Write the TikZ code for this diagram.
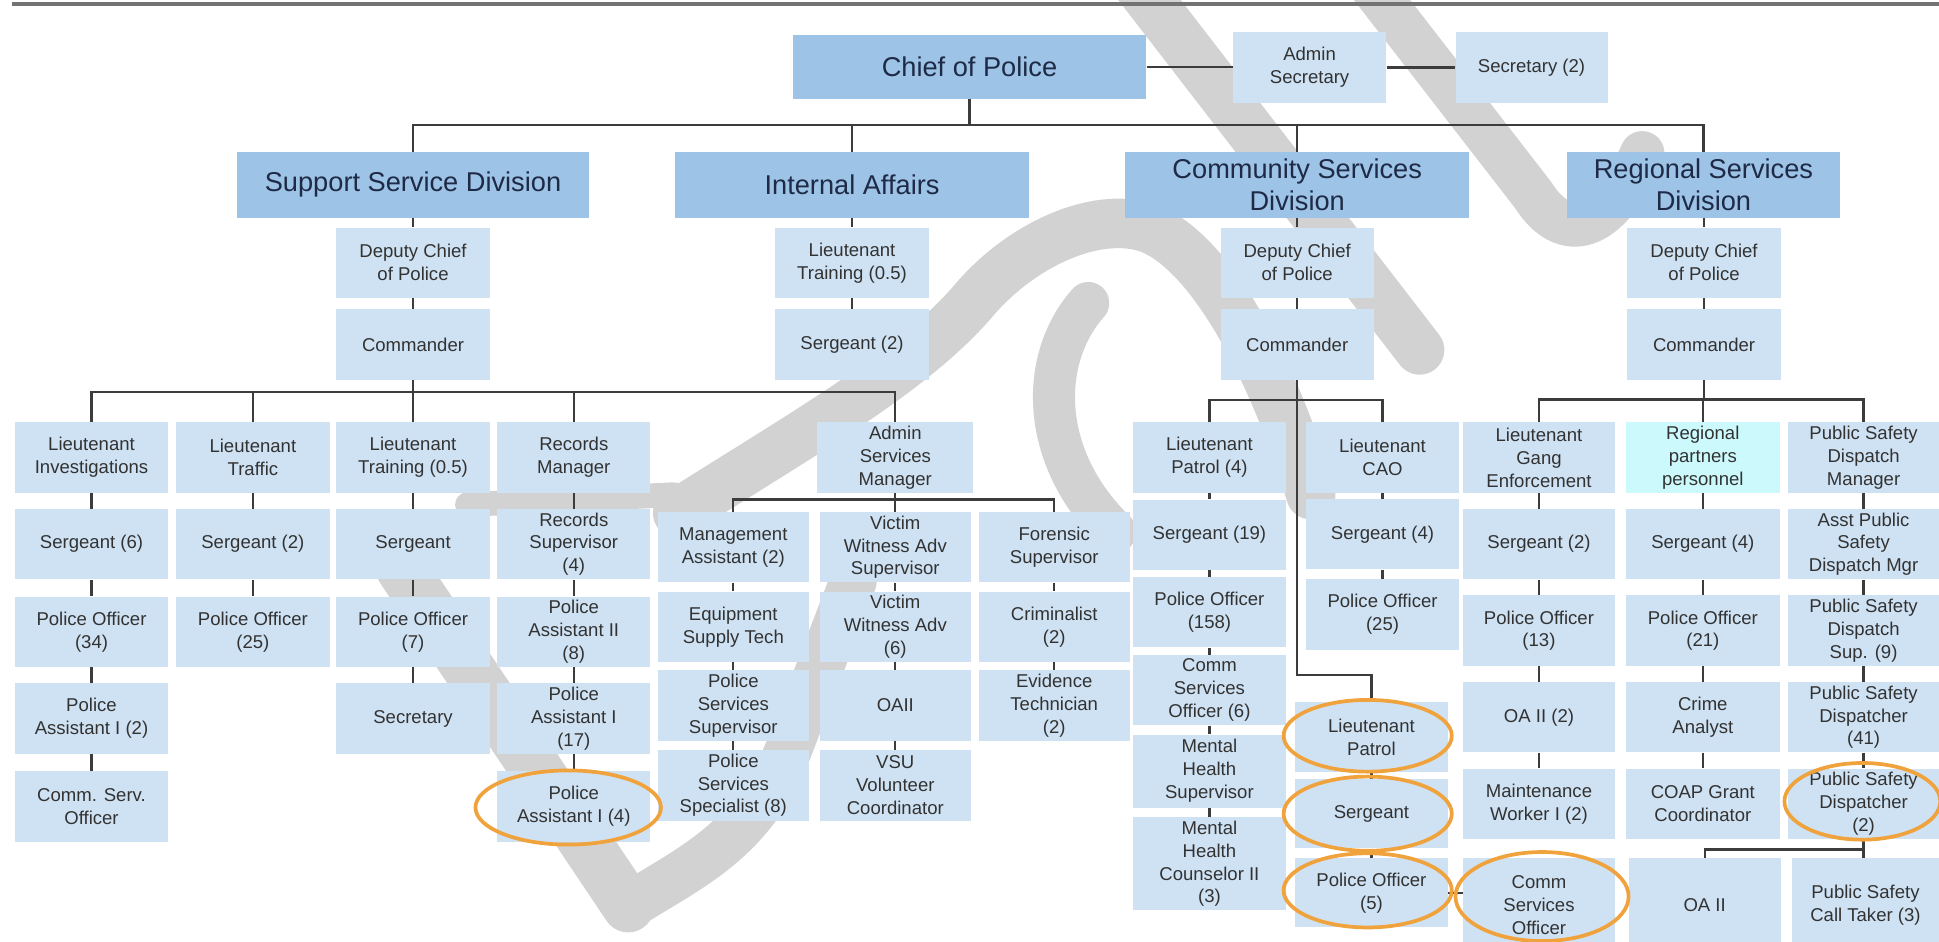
\documentclass[tikz,border=0pt]{standalone}
\usepackage{fontspec}
\setmainfont{Liberation Sans}
\definecolor{divc}{RGB}{157,195,230}
\definecolor{boxc}{RGB}{207,226,243}
\definecolor{cyanc}{RGB}{204,250,252}
\definecolor{wmc}{RGB}{210,210,210}
\definecolor{linec}{RGB}{60,60,60}
\definecolor{orng}{RGB}{240,162,60}
\definecolor{txtc}{RGB}{50,50,50}
\definecolor{navyc}{RGB}{30,42,70}
\definecolor{rulec}{RGB}{115,115,115}
\tikzset{
  sbox/.style={fill=boxc, minimum width=124pt, minimum height=57pt, inner sep=0pt, align=center,
    font=\fontsize{15}{18.5}\selectfont, text=txtc},
  dbox/.style={fill=divc, inner sep=0pt, align=center, font=\fontsize{22}{26}\selectfont, text=navyc},
  conn/.style={draw=linec, line width=1.8pt},
  ring/.style={draw=orng, line width=3pt},
  wm/.style={draw=wmc, line width=40pt, line cap=round, line join=round},
}
\newcommand{\obox}[5][]{\node[sbox,#1] (#2) at (#3,#4) {#5};}
\begin{document}
\begin{tikzpicture}[x=1pt,y=-1pt]
\useasboundingbox (0,0) rectangle (1568,761);
\clip (0,0) rectangle (1568,761);
\fill[white] (0,0) rectangle (1568,761);
% watermark
\draw[wm] (918,-15) -- (1148,283);
\draw[wm, line width=36pt] (1106,-15) -- (1240,158) .. controls (1264,196) and (1300,190) .. (1328,124);
\draw[wm] (548,415) .. controls (650,350) and (740,300) .. (790,240) .. controls (830,195) and (890,170) .. (930,185) .. controls (980,205) and (1030,300) .. (1060,400);
\draw[wm, line width=34pt] (880,245) .. controls (840,290) and (840,370) .. (902,430);
\draw[wm, line width=42pt] (325,460) -- (508,733);
\draw[wm, line width=38pt] (508,733) .. controls (560,700) and (610,680) .. (640,600) -- (690,470);
\draw[wm, line width=20pt] (378,408) -- (545,400);
% top rule
\draw[line width=3pt, draw=rulec] (10,3) -- (1568,3);
% top level
\node[dbox, minimum width=286pt, minimum height=52pt] (chief) at (784,54) {Chief of Police};
\obox{asec}{1059}{54.5}{Admin\\Secretary}
\obox[minimum width=123pt]{sec2}{1238.5}{54.5}{Secretary (2)}
\draw[conn] (chief.east) -- (chief.east -| asec.west);
\draw[conn] (asec.east) -- (sec2.west);
% divisions
\node[dbox, minimum width=284pt, minimum height=53pt] (ssd) at (334,149.5) {Support Service Division};
\node[dbox, minimum width=286pt, minimum height=53pt] (ia) at (689,149.5) {Internal Affairs};
\node[dbox, minimum width=278pt, minimum height=53pt] (csd) at (1049,149.5) {Community Services\\Division};
\node[dbox, minimum width=221pt, minimum height=53pt] (rsd) at (1377.5,149.5) {Regional Services\\Division};
\coordinate (busT) at (0,101);
\draw[conn] (ssd.north) |- (rsd.north |- busT) -- (rsd.north);
\draw[conn] (chief.south) -- (chief.south |- busT);
\draw[conn] (ia.north) -- (ia.north |- busT);
\draw[conn] (csd.north) -- (csd.north |- busT);
% level 2
\obox{ssdA}{334}{212.5}{Deputy Chief\\of Police}
\obox{ssdB}{334}{278.5}{Commander}
\obox{iaA}{689}{212.5}{Lieutenant\\Training (0.5)}
\obox{iaB}{689}{278.5}{Sergeant (2)}
\obox{csdA}{1049}{212.5}{Deputy Chief\\of Police}
\obox{csdB}{1049}{278.5}{Commander}
\obox{rsdA}{1378}{212.5}{Deputy Chief\\of Police}
\obox{rsdB}{1378}{278.5}{Commander}
\foreach \a/\b in {ssd/ssdA,ssdA/ssdB,ia/iaA,iaA/iaB,csd/csdA,csdA/csdB,rsd/rsdA,rsdA/rsdB}
  \draw[conn] (\b.north |- \a.south) -- (\b.north);
% Support Service Division columns
\obox{s1a}{74}{370}{Lieutenant\\Investigations}
\obox{s1b}{74}{440}{Sergeant (6)}
\obox{s1c}{74}{511}{Police Officer\\(34)}
\obox{s1d}{74}{581}{Police\\Assistant I (2)}
\obox{s1e}{74}{652}{Comm. Serv.\\Officer}
\obox{s2a}{204.5}{370}{Lieutenant\\Traffic}
\obox{s2b}{204.5}{440}{Sergeant (2)}
\obox{s2c}{204.5}{511}{Police Officer\\(25)}
\obox{s3a}{334}{370}{Lieutenant\\Training (0.5)}
\obox{s3b}{334}{440}{Sergeant}
\obox{s3c}{334}{511}{Police Officer\\(7)}
\obox{s3d}{334}{581}{Secretary}
\obox{s4a}{464}{370}{Records\\Manager}
\obox{s4b}{464}{440}{Records\\Supervisor\\(4)}
\obox{s4c}{464}{511}{Police\\Assistant II\\(8)}
\obox{s4d}{464}{581}{Police\\Assistant I\\(17)}
\obox{s4e}{464}{652}{Police\\Assistant I (4)}
\obox[minimum width=126pt]{asm}{724}{370}{Admin\\Services\\Manager}
\coordinate (busS) at (0,317);
\draw[conn] (ssdB.south) -- (ssdB.south |- busS);
\draw[conn] (s1a.north) |- (asm.north |- busS) -- (asm.north);
\foreach \n in {s2a,s3a,s4a} \draw[conn] (\n.north) -- (\n.north |- busS);
\foreach \a/\b in {s1a/s1b,s1b/s1c,s1c/s1d,s1d/s1e,s2a/s2b,s2b/s2c,s3a/s3b,s3b/s3c,s3c/s3d,s4a/s4b,s4b/s4c,s4c/s4d,s4d/s4e}
  \draw[conn] (\a.south) -- (\b.north);
% Admin services columns
\obox[minimum width=122pt]{a1a}{593}{442.5}{Management\\Assistant (2)}
\obox[minimum width=122pt]{a1b}{593}{507}{Equipment\\Supply Tech}
\obox[minimum width=122pt]{a1c}{593}{570.5}{Police\\Services\\Supervisor}
\obox[minimum width=122pt]{a1d}{593}{635}{Police\\Services\\Specialist (8)}
\obox[minimum width=122pt]{a2a}{724}{442.5}{Victim\\Witness Adv\\Supervisor}
\obox[minimum width=122pt]{a2b}{724}{507}{Victim\\Witness Adv\\(6)}
\obox[minimum width=122pt]{a2c}{724}{570.5}{OAII}
\obox[minimum width=122pt]{a2d}{724}{635}{VSU\\Volunteer\\Coordinator}
\obox[minimum width=122pt]{a3a}{852.5}{442.5}{Forensic\\Supervisor}
\obox[minimum width=122pt]{a3b}{852.5}{507}{Criminalist\\(2)}
\obox[minimum width=122pt]{a3c}{852.5}{570.5}{Evidence\\Technician\\(2)}
\coordinate (busA) at (0,404);
\draw[conn] (asm.south) -- (asm.south |- busA);
\draw[conn] (a1a.north) |- (a3a.north |- busA) -- (a3a.north);
\draw[conn] (a2a.north) -- (a2a.north |- busA);
\foreach \a/\b in {a1a/a1b,a1b/a1c,a1c/a1d,a2a/a2b,a2b/a2c,a2c/a2d,a3a/a3b,a3b/a3c}
  \draw[conn] (\a.south) -- (\b.north);
% Community services columns
\obox{p1}{978}{370}{Lieutenant\\Patrol (4)}
\obox{p2}{978}{432.5}{Sergeant (19)}
\obox{p3}{978}{495}{Police Officer\\(158)}
\obox{p4}{978}{558}{Comm\\Services\\Officer (6)}
\obox[minimum height=59pt]{p5}{978}{623.5}{Mental\\Health\\Supervisor}
\obox[minimum height=75pt]{p6}{978}{698.5}{Mental\\Health\\Counselor II\\(3)}
\obox{q1}{1118}{370}{Lieutenant\\CAO}
\obox{q2}{1118}{432}{Sergeant (4)}
\obox{q3}{1118}{497}{Police Officer\\(25)}
\obox[minimum height=56pt]{c1}{1109}{596}{Lieutenant\\Patrol}
\obox[minimum height=56pt]{c2}{1109}{658}{Sergeant}
\obox[minimum height=56pt]{c3}{1109}{722}{Police Officer\\(5)}
\obox[minimum width=123pt, minimum height=76pt]{c4}{1244.5}{732}{Comm\\Services\\Officer}
\coordinate (busC) at (0,323.5);
\coordinate (busL) at (0,546);
\draw[conn] (p1.north) |- (q1.north |- busC) -- (q1.north);
\draw[conn] (csdB.south) -- (csdB.south |- busL) -| (c1.north);
\foreach \a/\b in {p1/p2,p2/p3,p3/p4,p4/p5,p5/p6,q1/q2,q2/q3,c1/c2,c2/c3}
  \draw[conn] (\a.south) -- (\b.north);
\draw[conn] (c3.east) -- (c3.east -| c4.west);
% Regional services columns
\obox[minimum width=123pt]{g1}{1244.5}{370}{Lieutenant\\Gang\\Enforcement}
\obox[minimum width=123pt]{g2}{1244.5}{440}{Sergeant (2)}
\obox[minimum width=123pt]{g3}{1244.5}{510}{Police Officer\\(13)}
\obox[minimum width=123pt]{g4}{1244.5}{580}{OA II (2)}
\obox[minimum width=123pt]{g5}{1244.5}{650}{Maintenance\\Worker I (2)}
\obox[fill=cyanc]{r1}{1377}{370}{Regional\\partners\\personnel}
\obox{r2}{1377}{440}{Sergeant (4)}
\obox{r3}{1377}{510}{Police Officer\\(21)}
\obox{r4}{1377}{580}{Crime\\Analyst}
\obox{r5}{1377}{650}{COAP Grant\\Coordinator}
\obox[minimum width=122pt]{d1}{1507}{370}{Public Safety\\Dispatch\\Manager}
\obox[minimum width=122pt]{d2}{1507}{440}{Asst Public\\Safety\\Dispatch Mgr}
\obox[minimum width=122pt]{d3}{1507}{510}{Public Safety\\Dispatch\\Sup. (9)}
\obox[minimum width=122pt]{d4}{1507}{580}{Public Safety\\Dispatcher\\(41)}
\obox[minimum width=122pt]{d5}{1507}{650}{Public Safety\\Dispatcher\\(2)}
\obox[minimum width=123pt, minimum height=76pt]{oa}{1378.5}{732}{OA II}
\obox[minimum width=119pt, minimum height=76pt]{ct}{1508.5}{732}{Public Safety\\Call Taker (3)}
\coordinate (busR) at (0,323);
\coordinate (busB) at (0,687);
\draw[conn] (rsdB.south) -- (rsdB.south |- busR);
\draw[conn] (g1.north) |- (d1.north |- busR) -- (d1.north);
\draw[conn] (r1.north) -- (r1.north |- busR);
\foreach \a/\b in {g1/g2,g2/g3,g3/g4,g4/g5,r1/r2,r2/r3,r3/r4,r4/r5,d1/d2,d2/d3,d3/d4,d4/d5}
  \draw[conn] (\a.south) -- (\b.north);
\draw[conn] (d5.south) -- (d5.south |- ct.north);
\draw[conn] (d5.south |- busB) -| (oa.north);
% highlight rings
\draw[ring] (459.5,653) ellipse [x radius=75pt, y radius=30pt];
\draw[ring] (1106,595) ellipse [x radius=68pt, y radius=29pt];
\draw[ring] (1106,658) ellipse [x radius=68pt, y radius=30pt];
\draw[ring] (1106,720) ellipse [x radius=68pt, y radius=30pt];
\draw[ring] (1247,725) ellipse [x radius=70pt, y radius=36pt];
\draw[ring] (1506,648) ellipse [x radius=63pt, y radius=31pt];
\end{tikzpicture}
\end{document}
